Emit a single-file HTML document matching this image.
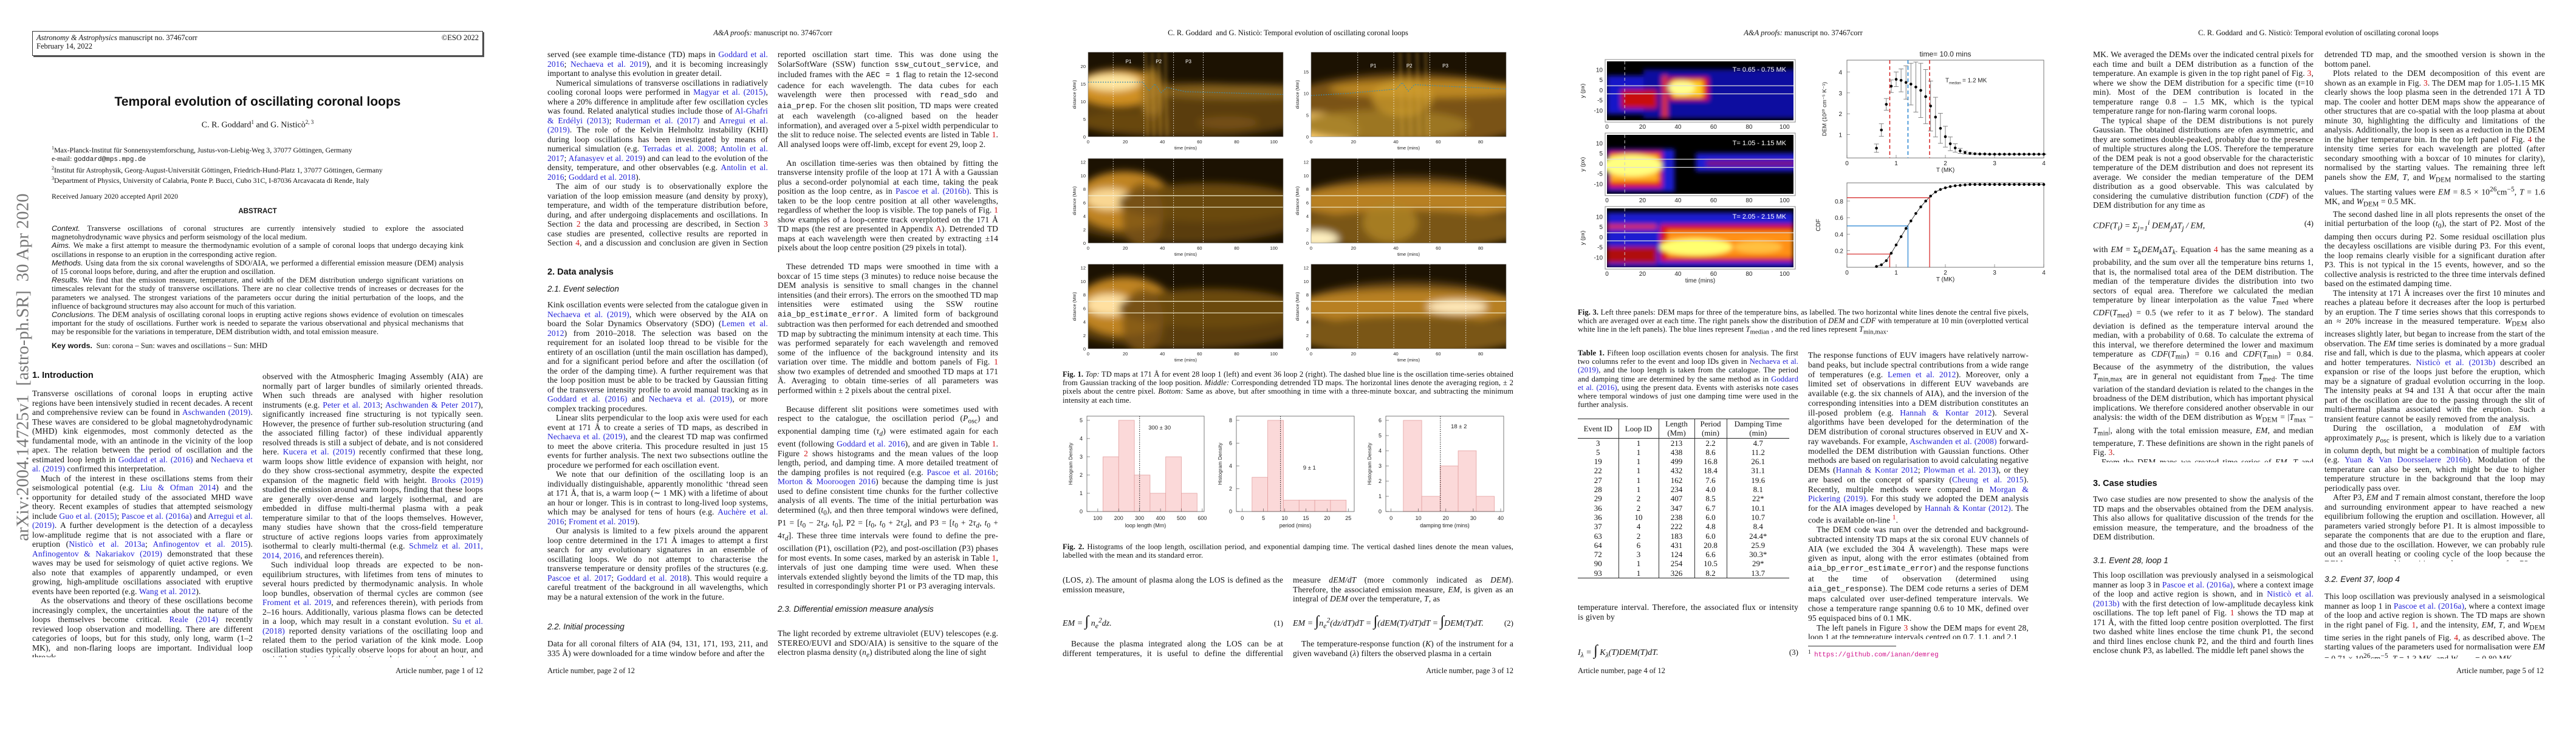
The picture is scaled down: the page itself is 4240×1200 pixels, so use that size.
<!DOCTYPE html>
<html><head><meta charset="utf-8">
<style>
*{margin:0;padding:0;box-sizing:border-box}
body{width:4240px;height:1200px;background:#fff;position:relative;overflow:hidden;font-family:"Liberation Serif",serif;color:#111}
.page{position:absolute;top:0;width:848px;height:1200px;background:#fff}
.col{position:absolute;width:363px;overflow:hidden;font-size:13.5px;letter-spacing:0.15px;line-height:15.5px;text-align:justify;hyphens:auto}
.col p{text-indent:0}
.col p+p{text-indent:14px}
.gap{margin-bottom:15.5px}
.hdr{position:absolute;top:47px;left:0;width:848px;text-align:center;font-size:12.5px}
.ftr{position:absolute;top:1097px;font-size:12.5px}
.h1{position:absolute;font-family:"Liberation Sans",sans-serif;font-weight:bold;font-size:14.5px}
.h2{position:absolute;font-family:"Liberation Sans",sans-serif;font-style:italic;font-size:13.5px}
a,.ln{color:#1f1fd8;text-decoration:none}
.rd{color:#d01010}
.cap{position:absolute;left:53px;width:742px;font-size:12.6px;letter-spacing:0.1px;line-height:14.2px;text-align:justify}
.eq{position:absolute;font-style:italic;font-size:14px}
.tt{font-family:"Liberation Mono",monospace;font-size:12.5px}
svg text{font-family:"Liberation Sans",sans-serif}
table{border-collapse:collapse}
</style></head><body>

<!-- PAGE 1 -->
<div class="page" style="left:0">
  <div style="position:absolute;left:53px;top:51px;width:742px;height:41px;border:1px solid #333;box-shadow:2px 2px 0 #555;font-size:12.5px;line-height:14px;padding:3px 6px">
    <div><i>Astronomy &amp; Astrophysics</i> manuscript no. 37467corr<span style="float:right">©ESO 2022</span></div>
    <div>February 14, 2022</div>
  </div>
  <div style="position:absolute;left:0;width:848px;top:156px;text-align:center;font-family:'Liberation Sans',sans-serif;font-weight:bold;font-size:21px">Temporal evolution of oscillating coronal loops</div>
  <div style="position:absolute;left:0;width:848px;top:196px;text-align:center;font-size:14px">C. R. Goddard<sup style="font-size:9px">1</sup> and G. Nisticò<sup style="font-size:9px">2, 3</sup></div>
  <div style="position:absolute;left:85px;top:237px;font-size:11.8px;line-height:14px">
    <div><sup style="font-size:8px">1</sup>Max-Planck-Institut für Sonnensystemforschung, Justus-von-Liebig-Weg 3, 37077 Göttingen, Germany</div>
    <div>e-mail: <span class="tt" style="font-size:11px">goddard@mps.mpg.de</span></div>
    <div><sup style="font-size:8px">2</sup>Institut für Astrophysik, Georg-August-Universität Göttingen, Friedrich-Hund-Platz 1, 37077 Göttingen, Germany</div>
    <div><sup style="font-size:8px">3</sup>Department of Physics, University of Calabria, Ponte P. Bucci, Cubo 31C, I-87036 Arcavacata di Rende, Italy</div>
    <div style="margin-top:12px">Received January 2020 accepted April 2020</div>
  </div>
  <div style="position:absolute;left:0;width:848px;top:342px;text-align:center;font-family:'Liberation Sans',sans-serif;font-weight:bold;font-size:11.5px">ABSTRACT</div>
  <div style="position:absolute;left:85px;top:369px;width:678px;font-size:12.4px;letter-spacing:0.1px;line-height:14.2px;text-align:justify">
    <div><i style="font-family:'Liberation Sans'">Context.</i> Transverse oscillations of coronal structures are currently intensively studied to explore the associated magnetohydrodynamic wave physics and perform seismology of the local medium.</div>
    <div><i style="font-family:'Liberation Sans'">Aims.</i> We make a first attempt to measure the thermodynamic evolution of a sample of coronal loops that undergo decaying kink oscillations in response to an eruption in the corresponding active region.</div>
    <div><i style="font-family:'Liberation Sans'">Methods.</i> Using data from the six coronal wavelengths of SDO/AIA, we performed a differential emission measure (DEM) analysis of 15 coronal loops before, during, and after the eruption and oscillation.</div>
    <div><i style="font-family:'Liberation Sans'">Results.</i> We find that the emission measure, temperature, and width of the DEM distribution undergo significant variations on timescales relevant for the study of transverse oscillations. There are no clear collective trends of increases or decreases for the parameters we analysed. The strongest variations of the parameters occur during the initial perturbation of the loops, and the influence of background structures may also account for much of this variation.</div>
    <div><i style="font-family:'Liberation Sans'">Conclusions.</i> The DEM analysis of oscillating coronal loops in erupting active regions shows evidence of evolution on timescales important for the study of oscillations. Further work is needed to separate the various observational and physical mechanisms that may be responsible for the variations in temperature, DEM distribution width, and total emission measure.</div>
    <div style="margin-top:8px"><b style="font-family:'Liberation Sans'">Key words.</b> &nbsp;Sun: corona – Sun: waves and oscillations – Sun: MHD</div>
  </div>
  <div style="position:absolute;left:38px;top:604px;width:0;height:0">
    <div style="position:absolute;left:-300px;top:-16px;width:600px;text-align:center;transform:rotate(-90deg);font-size:29px;color:#777;white-space:nowrap">arXiv:2004.14725v1 &nbsp;[astro-ph.SR] &nbsp;30 Apr 2020</div>
  </div>
  <div class="h1" style="left:53px;top:610px">1. Introduction</div>
  <div class="col" style="left:53px;top:640px;height:442px">
    <p>Transverse oscillations of coronal loops in erupting active regions have been intensively studied in recent decades. A recent and comprehensive review can be found in <a>Aschwanden (2019)</a>. These waves are considered to be global magnetohydrodynamic (MHD) kink eigenmodes, most commonly detected as the fundamental mode, with an antinode in the vicinity of the loop apex. The relation between the period of oscillation and the estimated loop length in <a>Goddard et al. (2016)</a> and <a>Nechaeva et al. (2019)</a> confirmed this interpretation.</p>
    <p>Much of the interest in these oscillations stems from their seismological potential (e.g. <a>Liu &amp; Ofman 2014</a>) and the opportunity for detailed study of the associated MHD wave theory. Recent examples of studies that attempted seismology include <a>Guo et al. (2015)</a>; <a>Pascoe et al. (2016a)</a> and <a>Arregui et al. (2019)</a>. A further development is the detection of a decayless low-amplitude regime that is not associated with a flare or eruption (<a>Nisticò et al. 2013a</a>; <a>Anfinogentov et al. 2015</a>). <a>Anfinogentov &amp; Nakariakov (2019)</a> demonstrated that these waves may be used for seismology of quiet active regions. We also note that examples of apparently undamped, or even growing, high-amplitude oscillations associated with eruptive events have been reported (e.g. <a>Wang et al. 2012</a>).</p>
    <p>As the observations and theory of these oscillations become increasingly complex, the uncertainties about the nature of the loops themselves become critical. <a>Reale (2014)</a> recently reviewed loop observation and modelling. There are different categories of loops, but for this study, only long, warm (1–2 MK), and non-flaring loops are important. Individual loop threads</p>
  </div>
  <div class="col" style="left:432px;top:612px;height:470px">
    <p>observed with the Atmospheric Imaging Assembly (AIA) are normally part of larger bundles of similarly oriented threads. When such threads are analysed with higher resolution instruments (e.g. <a>Peter et al. 2013</a>; <a>Aschwanden &amp; Peter 2017</a>), significantly increased fine structuring is not typically seen. However, the presence of further sub-resolution structuring (and the associated filling factor) of these individual apparently resolved threads is still a subject of debate, and is not considered here. <a>Kucera et al. (2019)</a> recently confirmed that these long, warm loops show little evidence of expansion with height, nor do they show cross-sectional asymmetry, despite the expected expansion of the magnetic field with height. <a>Brooks (2019)</a> studied the emission around warm loops, finding that these loops are generally over-dense and largely isothermal, and are embedded in diffuse multi-thermal plasma with a peak temperature similar to that of the loops themselves. However, many studies have shown that the cross-field temperature structure of active regions loops varies from approximately isothermal to clearly multi-thermal (e.g. <a>Schmelz et al. 2011, 2014, 2016</a>, and references therein).</p>
    <p>Such individual loop threads are expected to be non-equilibrium structures, with lifetimes from tens of minutes to several hours predicted by thermodynamic analysis. In whole loop bundles, observation of thermal cycles are common (see <a>Froment et al. 2019</a>, and references therein), with periods from 2–16 hours. Additionally, various plasma flows can be detected in a loop, which may result in a constant evolution. <a>Su et al. (2018)</a> reported density variations of the oscillating loop and related them to the period variation of the kink mode. Loop oscillation studies typically observe loops for about an hour, and a visible evolution of the intensity and structure is frequently ob-</p>
  </div>
  <div class="ftr" style="left:595px;width:200px;text-align:right">Article number, page 1 of 12</div>
</div>

<!-- PAGE 2 -->
<div class="page" style="left:848px">
  <div class="hdr"><i>A&amp;A proofs:</i> manuscript no. 37467corr</div>
  <div class="col" style="left:53px;top:82px;height:328px">
    <p>served (see example time-distance (TD) maps in <a>Goddard et al. 2016</a>; <a>Nechaeva et al. 2019</a>), and it is becoming increasingly important to analyse this evolution in greater detail.</p>
    <p>Numerical simulations of transverse oscillations in radiatively cooling coronal loops were performed in <a>Magyar et al. (2015)</a>, where a 20% difference in amplitude after few oscillation cycles was found. Related analytical studies include those of <a>Al-Ghafri &amp; Erdélyi (2013)</a>; <a>Ruderman et al. (2017)</a> and <a>Arregui et al. (2019)</a>. The role of the Kelvin Helmholtz instability (KHI) during loop oscillations has been investigated by means of numerical simulation (e.g. <a>Terradas et al. 2008</a>; <a>Antolin et al. 2017</a>; <a>Afanasyev et al. 2019</a>) and can lead to the evolution of the density, temperature, and other observables (e.g. <a>Antolin et al. 2016</a>; <a>Goddard et al. 2018</a>).</p>
    <p>The aim of our study is to observationally explore the variation of the loop emission measure (and density by proxy), temperature, and width of the temperature distribution before, during, and after undergoing displacements and oscillations. In Section <span class="rd">2</span> the data and processing are described, in Section <span class="rd">3</span> case studies are presented, collective results are reported in Section <span class="rd">4</span>, and a discussion and conclusion are given in Section <span class="rd">5</span>.</p>
  </div>
  <div class="h1" style="left:53px;top:440px">2. Data analysis</div>
  <div class="h2" style="left:53px;top:468px">2.1. Event selection</div>
  <div class="col" style="left:53px;top:494px;height:512px">
    <p>Kink oscillation events were selected from the catalogue given in <a>Nechaeva et al. (2019)</a>, which were observed by the AIA on board the Solar Dynamics Observatory (SDO) (<a>Lemen et al. 2012</a>) from 2010–2018. The selection was based on the requirement for an isolated loop thread to be visible for the entirety of an oscillation (until the main oscillation has damped), and for a significant period before and after the oscillation (of the order of the damping time). A further requirement was that the loop position must be able to be tracked by Gaussian fitting of the transverse intensity profile to avoid manual tracking as in <a>Goddard et al. (2016)</a> and <a>Nechaeva et al. (2019)</a>, or more complex tracking procedures.</p>
    <p>Linear slits perpendicular to the loop axis were used for each event at 171 Å to create a series of TD maps, as described in <a>Nechaeva et al. (2019)</a>, and the clearest TD map was confirmed to meet the above criteria. This procedure resulted in just 15 events for further analysis. The next two subsections outline the procedure we performed for each oscillation event.</p>
    <p>We note that our definition of the oscillating loop is an individually distinguishable, apparently monolithic ‘thread seen at 171 Å, that is, a warm loop (∼ 1 MK) with a lifetime of about an hour or longer. This is in contrast to long-lived loop systems, which may be analysed for tens of hours (e.g. <a>Auchère et al. 2016</a>; <a>Froment et al. 2019</a>).</p>
    <p>Our analysis is limited to a few pixels around the apparent loop centre determined in the 171 Å images to attempt a first search for any evolutionary signatures in an ensemble of oscillating loops. We do not attempt to characterise the transverse temperature or density profiles of the structures (e.g. <a>Pascoe et al. 2017</a>; <a>Goddard et al. 2018</a>). This would require a careful treatment of the background in all wavelengths, which may be a natural extension of the work in the future.</p>
  </div>
  <div class="h2" style="left:53px;top:1024px">2.2. Initial processing</div>
  <div class="col" style="left:53px;top:1052px;height:31px">
    <p>Data for all coronal filters of AIA (94, 131, 171, 193, 211, and 335 Å) were downloaded for a time window before and after the</p>
  </div>
  <div class="col" style="left:432px;top:82px;height:890px">
    <p class="gap">reported oscillation start time. This was done using the SolarSoftWare (SSW) function <span class="tt">ssw_cutout_service</span>, and included frames with the <span class="tt">AEC = 1</span> flag to retain the 12-second cadence for each wavelength. The data cubes for each wavelength were then processed with <span class="tt">read_sdo</span> and <span class="tt">aia_prep</span>. For the chosen slit position, TD maps were created at each wavelength (co-aligned based on the header information), and averaged over a 5-pixel width perpendicular to the slit to reduce noise. The selected events are listed in Table <span class="rd">1</span>. All analysed loops were off-limb, except for event 29, loop 2.</p>
    <p class="gap" style="text-indent:14px">An oscillation time-series was then obtained by fitting the transverse intensity profile of the loop at 171 Å with a Gaussian plus a second-order polynomial at each time, taking the peak position as the loop centre, as in <a>Pascoe et al. (2016b)</a>. This is taken to be the loop centre position at all other wavelengths, regardless of whether the loop is visible. The top panels of Fig. <span class="rd">1</span> show examples of a loop-centre track overplotted on the 171 Å TD maps (the rest are presented in Appendix <span class="rd">A</span>). Detrended TD maps at each wavelength were then created by extracting ±14 pixels about the loop centre position (29 pixels in total).</p>
    <p class="gap" style="text-indent:14px">These detrended TD maps were smoothed in time with a boxcar of 15 time steps (3 minutes) to reduce noise because the DEM analysis is sensitive to small changes in the channel intensities (and their errors). The errors on the smoothed TD map intensities were estimated using the SSW routine <span class="tt">aia_bp_estimate_error</span>. A limited form of background subtraction was then performed for each detrended and smoothed TD map by subtracting the minimum intensity at each time. This was performed separately for each wavelength and removed some of the influence of the background intensity and its variation over time. The middle and bottom panels of Fig. <span class="rd">1</span> show two examples of detrended and smoothed TD maps at 171 Å. Averaging to obtain time-series of all parameters was performed within ± 2 pixels about the central pixel.</p>
    <p style="text-indent:14px">Because different slit positions were sometimes used with respect to the catalogue, the oscillation period (<i>P</i><sub>osc</sub>) and exponential damping time (<i>τ<sub>d</sub></i>) were estimated again for each event (following <a>Goddard et al. 2016</a>), and are given in Table <span class="rd">1</span>. Figure <span class="rd">2</span> shows histograms and the mean values of the loop length, period, and damping time. A more detailed treatment of the damping profiles is not required (e.g. <a>Pascoe et al. 2016b</a>; <a>Morton &amp; Mooroogen 2016</a>) because the damping time is just used to define consistent time chunks for the further collective analysis of all events. The time of the initial perturbation was determined (<i>t</i><sub>0</sub>), and then three temporal windows were defined, P1 = [<i>t</i><sub>0</sub> − 2<i>τ<sub>d</sub></i>, <i>t</i><sub>0</sub>], P2 = [<i>t</i><sub>0</sub>, <i>t</i><sub>0</sub> + 2<i>τ<sub>d</sub></i>], and P3 = [<i>t</i><sub>0</sub> + 2<i>τ<sub>d</sub></i>, <i>t</i><sub>0</sub> + 4<i>τ<sub>d</sub></i>]. These three time intervals were found to define the pre-oscillation (P1), oscillation (P2), and post-oscillation (P3) phases for most events. In some cases, marked by an asterisk in Table <span class="rd">1</span>, intervals of just one damping time were used. When these intervals extended slightly beyond the limits of the TD map, this resulted in correspondingly shorter P1 or P3 averaging intervals.</p>
  </div>
  <div class="h2" style="left:432px;top:995px">2.3. Differential emission measure analysis</div>
  <div class="col" style="left:432px;top:1035px;height:48px">
    <p>The light recorded by extreme ultraviolet (EUV) telescopes (e.g. STEREO/EUVI and SDO/AIA) is sensitive to the square of the electron plasma density (<i>n<sub>e</sub></i>) distributed along the line of sight</p>
  </div>
  <div class="ftr" style="left:53px">Article number, page 2 of 12</div>
</div>

<!-- PAGE 3 -->
<div class="page" style="left:1696px">
  <div class="hdr">C. R. Goddard &nbsp;and G. Nisticò: Temporal evolution of oscillating coronal loops</div>
  <svg id="fig1" style="position:absolute;left:0;top:0" width="848" height="600"></svg>
  <div class="cap" style="top:609px"><b>Fig. 1.</b> <i>Top:</i> TD maps at 171 Å for event 28 loop 1 (left) and event 36 loop 2 (right). The dashed blue line is the oscillation time-series obtained from Gaussian tracking of the loop position. <i>Middle:</i> Corresponding detrended TD maps. The horizontal lines denote the averaging region, ± 2 pixels about the centre pixel. <i>Bottom:</i> Same as above, but after smoothing in time with a three-minute boxcar, and subtracting the minimum intensity at each time.</div>
  <svg id="fig2" style="position:absolute;left:0;top:670px" width="848" height="210"></svg>
  <div class="cap" style="top:893px"><b>Fig. 2.</b> Histograms of the loop length, oscillation period, and exponential damping time. The vertical dashed lines denote the mean values, labelled with the mean and its standard error.</div>
  <div class="col" style="left:53px;top:947px;height:31px"><p>(LOS, <i>z</i>). The amount of plasma along the LOS is defined as the emission measure,</p></div>
  <div class="eq" style="left:53px;top:1010px;width:363px">EM = <span style="font-size:24px;font-style:normal">∫</span> n<sub>e</sub><sup>2</sup>dz.<span style="float:right;font-style:normal;font-size:13px;margin-top:8px">(1)</span></div>
  <div class="col" style="left:53px;top:1052px;height:31px"><p style="text-indent:14px">Because the plasma integrated along the LOS can be at different temperatures, it is useful to define the differential emission</p></div>
  <div class="col" style="left:432px;top:947px;height:47px"><p>measure <i>dEM/dT</i> (more commonly indicated as <i>DEM</i>). Therefore, the associated emission measure, <i>EM</i>, is given as an integral of <i>DEM</i> over the temperature, <i>T</i>, as</p></div>
  <div class="eq" style="left:432px;top:1010px;width:363px">EM = <span style="font-size:24px;font-style:normal">∫</span>n<sub>e</sub><sup>2</sup>(dz/dT)dT = <span style="font-size:24px;font-style:normal">∫</span>(dEM(T)/dT)dT = <span style="font-size:24px;font-style:normal">∫</span>DEM(T)dT.<span style="float:right;font-style:normal;font-size:13px;margin-top:8px">(2)</span></div>
  <div class="col" style="left:432px;top:1052px;height:31px"><p style="text-indent:14px">The temperature-response function (<i>K</i>) of the instrument for a given waveband (<i>λ</i>) filters the observed plasma in a certain</p></div>
  <div class="ftr" style="left:595px;width:200px;text-align:right">Article number, page 3 of 12</div>
</div>

<!-- PAGE 4 -->
<div class="page" style="left:2544px">
  <div class="hdr"><i>A&amp;A proofs:</i> manuscript no. 37467corr</div>
  <svg id="fig3maps" style="position:absolute;left:0;top:0" width="440" height="480"></svg>
  <svg id="fig3dem" style="position:absolute;left:440px;top:0" width="408" height="480"></svg>
  <div class="cap" style="top:507px"><b>Fig. 3.</b> Left three panels: DEM maps for three of the temperature bins, as labelled. The two horizontal white lines denote the central five pixels, which are averaged over at each time. The right panels show the distribution of <i>DEM</i> and <i>CDF</i> with temperature at 10 min (overplotted vertical white line in the left panels). The blue lines represent <i>T</i><sub>median</sub> , and the red lines represent <i>T</i><sub>min,max</sub>.</div>
  <div class="cap" style="top:574px;width:363px;line-height:14.2px"><b>Table 1.</b> Fifteen loop oscillation events chosen for analysis. The first two columns refer to the event and loop IDs given in <a>Nechaeva et al. (2019)</a>, and the loop length is taken from the catalogue. The period and damping time are determined by the same method as in <a>Goddard et al. (2016)</a>, using the present data. Events with asterisks note cases where temporal windows of just one damping time were used in the further analysis.</div>
  <table id="tbl" style="position:absolute;left:53px;top:689px;width:348px;font-size:13px;line-height:15.3px;text-align:center;border-top:1.3px solid #222;border-bottom:1.3px solid #222">
    <thead><tr style="border-bottom:1.3px solid #222">
      <th style="font-weight:normal;width:67px;border-right:1px solid #333">Event ID</th>
      <th style="font-weight:normal;width:66px;border-right:1px solid #333">Loop ID</th>
      <th style="font-weight:normal;width:59px;border-right:1px solid #333">Length<br>(Mm)</th>
      <th style="font-weight:normal;width:53px;border-right:1px solid #333">Period<br>(min)</th>
      <th style="font-weight:normal">Damping Time<br>(min)</th></tr></thead>
    <tbody id="tbody"></tbody>
  </table>
  <div class="col" style="left:53px;top:992px;height:31px"><p>temperature interval. Therefore, the associated flux or intensity is given by</p></div>
  <div class="eq" style="left:53px;top:1058px;width:363px">I<sub>λ</sub> = <span style="font-size:24px;font-style:normal">∫</span> K<sub>λ</sub>(T)DEM(T)dT.<span style="float:right;font-style:normal;font-size:13px;margin-top:8px">(3)</span></div>
  <div class="col" style="left:432px;top:577px;height:475px;line-height:15.75px">
    <p>The response functions of EUV imagers have relatively narrow-band peaks, but include spectral contributions from a wide range of temperatures (e.g. <a>Lemen et al. 2012</a>). Moreover, only a limited set of observations in different EUV wavebands are available (e.g. the six channels of AIA), and the inversion of the corresponding intensities into a DEM distribution constitutes an ill-posed problem (e.g. <a>Hannah &amp; Kontar 2012</a>). Several algorithms have been developed for the determination of the DEM distribution of coronal structures observed in EUV and X-ray wavebands. For example, <a>Aschwanden et al. (2008)</a> forward-modelled the DEM distribution with Gaussian functions. Other methods are based on regularisation to avoid calculating negative DEMs (<a>Hannah &amp; Kontar 2012</a>; <a>Plowman et al. 2013</a>), or they are based on the concept of sparsity (<a>Cheung et al. 2015</a>). Recently, multiple methods were compared in <a>Morgan &amp; Pickering (2019)</a>. For this study we adopted the DEM analysis for the AIA images developed by <a>Hannah &amp; Kontar (2012)</a>. The code is available on-line <sup class="rd">1</sup>.</p>
    <p>The DEM code was run over the detrended and background-subtracted intensity TD maps at the six coronal EUV channels of AIA (we excluded the 304 Å wavelength). These maps were given as input, along with the error estimates (obtained from <span class="tt">aia_bp_error_estimate_error</span>) and the response functions at the time of observation (determined using <span class="tt">aia_get_response</span>). The DEM code returns a series of DEM maps calculated over user-defined temperature intervals. We chose a temperature range spanning 0.6 to 10 MK, defined over 95 equispaced bins of 0.1 MK.</p>
    <p>The left panels in Figure <span class="rd">3</span> show the DEM maps for event 28, loop 1 at the temperature intervals centred on 0.7, 1.1, and 2.1</p>
  </div>
  <div style="position:absolute;left:432px;top:1063px;width:145px;border-top:1px solid #333"></div>
  <div style="position:absolute;left:432px;top:1068px;font-size:11px"><sup>1</sup> &nbsp;<span class="tt" style="color:#d0108a;font-size:11px">https://github.com/ianan/demreg</span></div>
  <div class="ftr" style="left:53px">Article number, page 4 of 12</div>
</div>

<!-- PAGE 5 -->
<div class="page" style="left:3392px">
  <div class="hdr">C. R. Goddard &nbsp;and G. Nisticò: Temporal evolution of oscillating coronal loops</div>
  <div class="col" style="left:53px;top:82px;height:264px">
    <p>MK. We averaged the DEMs over the indicated central pixels for each time and built a DEM distribution as a function of the temperature. An example is given in the top right panel of Fig. <span class="rd">3</span>, where we show the DEM distribution for a specific time (t=10 min). Most of the DEM contribution is located in the temperature range 0.8 – 1.5 MK, which is the typical temperature range for non-flaring warm coronal loops.</p>
    <p>The typical shape of the DEM distributions is not purely Gaussian. The obtained distributions are ofen asymmetric, and they are sometimes double-peaked, probably due to the presence of multiple structures along the LOS. Therefore the temperature of the DEM peak is not a good observable for the characteristic temperature of the DEM distribution and does not represent its average. We consider the median temperature of the DEM distribution as a good observable. This was calculated by considering the cumulative distribution function (<i>CDF</i>) of the DEM distribution for any time as</p>
  </div>
  <div class="eq" style="left:53px;top:360px;width:363px">CDF(T<sub>i</sub>) = Σ<sub>j=1</sub><sup>i</sup> DEM<sub>j</sub>ΔT<sub>j</sub> / EM,<span style="float:right;font-style:normal;font-size:13px">(4)</span></div>
  <div class="col" style="left:53px;top:403px;height:358px">
    <p>with <i>EM</i> = Σ<sub><i>k</i></sub><i>DEM<sub>k</sub></i>Δ<i>T<sub>k</sub></i>. Equation <span class="rd">4</span> has the same meaning as a probability, and the sum over all the temperature bins returns 1, that is, the normalised total area of the DEM distribution. The median of the temperature divides the distribution into two sectors of equal area. Therefore we calculated the median temperature by linear interpolation as the value <i>T</i><sub>med</sub> where <i>CDF</i>(<i>T</i><sub>med</sub>) = 0.5 (we refer to it as <i>T</i> below). The standard deviation is defined as the temperature interval around the median, with a probability of 0.68. To calculate the extrema of this interval, we therefore determined the lower and maximum temperature as <i>CDF</i>(<i>T</i><sub>min</sub>) = 0.16 and <i>CDF</i>(<i>T</i><sub>min</sub>) = 0.84. Because of the asymmetry of the distribution, the values <i>T</i><sub>min,max</sub> are in general not equidistant from <i>T</i><sub>med</sub>. The time variation of the standard deviation is related to the changes in the broadness of the DEM distribution, which has important physical implications. We therefore considered another observable in our analysis: the width of the DEM distribution as <i>W</i><sub>DEM</sub> = |<i>T</i><sub>max</sub> − <i>T</i><sub>min</sub>|, along with the total emission measure, <i>EM</i>, and median temperature, <i>T</i>. These definitions are shown in the right panels of Fig. <span class="rd">3</span>.</p>
    <p>From the DEM maps we created time series of <i>EM</i>, <i>T</i> and <i>W</i><sub>DEM</sub> averaged within the central 5 pixels for each time. Examples of the final time series are shown in the bottom three rows of Fig. <span class="rd">4</span>, which are normalised by the initial values.</p>
  </div>
  <div class="h1" style="left:53px;top:788px">3. Case studies</div>
  <div class="col" style="left:53px;top:814px;height:78px">
    <p>Two case studies are now presented to show the analysis of the TD maps and the observables obtained from the DEM analysis. This also allows for qualitative discussion of the trends for the emission measure, the temperature, and the broadness of the DEM distribution.</p>
  </div>
  <div class="h2" style="left:53px;top:915px">3.1. Event 28, loop 1</div>
  <div class="col" style="left:53px;top:939px;height:141px">
    <p>This loop oscillation was previously analysed in a seismological manner as loop 3 in <a>Pascoe et al. (2016a)</a>, where a context image of the loop and active region is shown, and in <a>Nisticò et al. (2013b)</a> with the first detection of low-amplitude decayless kink oscillations. The top left panel of Fig. <span class="rd">1</span> shows the TD map at 171 Å, with the fitted loop centre position overplotted. The first two dashed white lines enclose the time chunk P1, the second and third lines enclose chunk P2, and the third and fourth lines enclose chunk P3, as labelled. The middle left panel shows the</p>
  </div>
  <div class="col" style="left:434px;top:82px;height:842px">
    <p>detrended TD map, and the smoothed version is shown in the bottom panel.</p>
    <p>Plots related to the DEM decomposition of this event are shown as an example in Fig. <span class="rd">3</span>. The DEM map for 1.05-1.15 MK clearly shows the loop plasma seen in the detrended 171 Å TD map. The cooler and hotter DEM maps show the appearance of other structures that are co-spatial with the loop plasma at about minute 30, highlighting the difficulty and limitations of the analysis. Additionally, the loop is seen as a reduction in the DEM in the higher temperature bin. In the top left panel of Fig. <span class="rd">4</span> the intensity time series for each wavelength are plotted (after secondary smoothing with a boxcar of 10 minutes for clarity), normalised by the starting values. The remaining three left panels show the <i>EM</i>, <i>T</i>, and <i>W</i><sub>DEM</sub> normalised to the starting values. The starting values were <i>EM</i> = 8.5 × 10<sup>26</sup>cm<sup>−5</sup>, <i>T</i> = 1.6 MK, and <i>W</i><sub>DEM</sub> = 0.5 MK.</p>
    <p>The second dashed line in all plots represents the onset of the initial perturbation of the loop (<i>t</i><sub>0</sub>), the start of P2. Most of the damping then occurs during P2. Some residual oscillation plus the decayless oscillations are visible during P3. For this event, the loop remains clearly visible for a significant duration after P3. This is not typical in the 15 events, however, and so the collective analysis is restricted to the three time intervals defined based on the estimated damping time.</p>
    <p>The intensity at 171 Å increases over the first 10 minutes and reaches a plateau before it decreases after the loop is perturbed by an eruption. The <i>T</i> time series shows that this corresponds to an ≈ 20% increase in the measured temperature. <i>W</i><sub>DEM</sub> also increases slightly later, but began to increase from the start of the observation. The <i>EM</i> time series is dominated by a more gradual rise and fall, which is due to the plasma, which appears at cooler and hotter temperatures. <a>Nisticò et al. (2013b)</a> described an expansion or rise of the loops just before the eruption, which may be a signature of gradual evolution occurring in the loop. The intensity peaks at 94 and 131 Å that occur after the main part of the oscillation are due to the passing through the slit of multi-thermal plasma associated with the eruption. Such a transient feature cannot be easily removed from the analysis.</p>
    <p>During the oscillation, a modulation of <i>EM</i> with approximately <i>p</i><sub>osc</sub> is present, which is likely due to a variation in column depth, but might be a combination of multiple factors (e.g. <a>Yuan &amp; Van Doorsselaere 2016b</a>). Modulation of the temperature can also be seen, which might be due to higher temperature structure in the background that the loop may periodically pass over.</p>
    <p>After P3, <i>EM</i> and <i>T</i> remain almost constant, therefore the loop and surrounding environment appear to have reached a new equilibrium following the eruption and oscillation. However, all parameters varied strongly before P1. It is almost impossible to separate the components that are due to the eruption and flare, and those due to the oscillation. However, we can probably rule out an overall heating or cooling cycle of the loop because the DEM parameters and intensities are almost constant after P3.</p>
  </div>
  <div class="h2" style="left:434px;top:946px">3.2. Event 37, loop 4</div>
  <div class="col" style="left:434px;top:974px;height:110px">
    <p>This loop oscillation was previously analysed in a seismological manner as loop 1 in <a>Pascoe et al. (2016a)</a>, where a context image of the loop and active region is shown. The TD maps are shown in the right panel of Fig. <span class="rd">1</span>, and the intensity, <i>EM</i>, <i>T</i>, and <i>W</i><sub>DEM</sub> time series in the right panels of Fig. <span class="rd">4</span>, as described above. The starting values of the parameters used for normalisation were <i>EM</i> = 0.71 × 10<sup>26</sup>cm<sup>−5</sup>, <i>T</i> = 1.3 MK, and <i>W</i><sub>DEM</sub> = 0.80 MK.</p>
  </div>
  <div class="ftr" style="left:595px;width:200px;text-align:right">Article number, page 5 of 12</div>
</div>

<script>
// ===== Table 1 data =====
const eventIds = ["3","5","19","22","27","28","29","36","36","37","63","64","72","90","93"];
const loopIds = ["1","1","1","1","1","1","2","2","10","4","2","6","3","1","1"];
const lengths = ["213","438","499","432","162","234","407","347","238","222","183","431","124","254","326"];
const periods = ["2.2","8.6","16.8","18.4","7.6","4.0","8.5","6.7","6.0","4.8","6.0","20.8","6.6","10.5","8.2"];
const dampings = ["4.7","11.2","26.1","31.1","19.6","8.1","22*","10.1","10.7","8.4","24.4*","25.9","30.3*","29*","13.7"];

// ===== Fig 2 histogram data =====
const lenEdges = [125,200,275,350,425,500,575];
const lenCounts = [3,5,2,1,3,1];
const lenMean = 300;
const perEdges = [2.3,6.0,9.7,13.4,17.1,20.8,24.5];
const perCounts = [3,8,1,1,1,1];
const perMean = 9;
const dampEdges = [4.5,11.2,17.9,24.5,31.1,37.7];
const dampCounts = [6,1,3,4,1];
const dampMean = 18;
const lenTicks = [100,200,300,400,500,600];
const perTicks = [0,5,10,15,20,25];
const dampTicks = [0,10,20,30,40];

// ===== Fig 3 DEM data =====
const demT = [0.6,0.7,0.8,0.9,1.0,1.1,1.2,1.3,1.4,1.5,1.6,1.7,1.8,1.9,2.0,2.1,2.2,2.3,2.4,2.5,2.6,2.7,2.8,2.9,3.0,3.1,3.2,3.3,3.4,3.5,3.6,3.7,3.8,3.9,4.0];
const demVal = [0.35,1.22,2.45,3.32,3.65,3.6,3.5,3.42,3.28,3.12,2.82,2.37,1.84,1.3,0.9,0.56,0.36,0.22,0.14,0.1,0.08,0.07,0.07,0.06,0.06,0.06,0.06,0.06,0.06,0.06,0.06,0.06,0.06,0.06,0.06];
const demErr = [0.2,0.3,0.28,0.3,0.35,0.55,0.8,1.0,1.2,1.3,1.3,1.2,0.95,0.72,0.5,0.33,0.2,0.12,0.07,0.04,0.03,0.02,0.02,0.02,0.02,0.02,0.02,0.02,0.02,0.02,0.02,0.02,0.02,0.02,0.02];
const cdfVal = [0.01,0.03,0.08,0.17,0.27,0.37,0.47,0.56,0.65,0.73,0.80,0.86,0.91,0.94,0.96,0.975,0.985,0.99,0.995,1,1,1,1,1,1,1,1,1,1,1,1,1,1,1,1];
const tMin = 0.87, tMed = 1.24, tMax = 1.68;
const cdfLevels = [0.16,0.5,0.84];

const NS = "http://www.w3.org/2000/svg";
function el(tag, parent){ const e=document.createElementNS(NS,tag); parent.appendChild(e); return e; }
function setA(e, o){ for(const k in o) e.setAttribute(k,o[k]); return e; }

// ----- Table -----
const tb = document.getElementById('tbody');
for(let i=0;i<eventIds.length;i++){
  const tr = document.createElement('tr');
  
  
  [eventIds[i],loopIds[i],lengths[i],periods[i],dampings[i]].forEach((v,j)=>{
    const td=document.createElement('td'); td.textContent=v;
    if(j<4) td.style.borderRight='1px solid #333';
    tr.appendChild(td);
  });
  tb.appendChild(tr);
}

// ----- Fig 1 TD maps (image textures) -----
const f1 = document.getElementById('fig1');
const defs = el('defs', f1);
const flt = setA(el('filter', defs), {id:'blur6', x:'-50%', y:'-50%', width:'200%', height:'200%'});
setA(el('feGaussianBlur', flt), {stdDeviation:'6'});
const flt2 = setA(el('filter', defs), {id:'blur3', x:'-50%', y:'-50%', width:'200%', height:'200%'});
setA(el('feGaussianBlur', flt2), {stdDeviation:'3'});
const f1Panels = [
 {x:95,y:86,tmax:105,ymax:24,yt:[0,5,10,15,20],xt:[0,20,40,60,80,100],lines:[13.5,30,46,62],top:true,left:true},
 {x:462,y:86,tmax:92,ymax:19.5,yt:[0,5,10,15],xt:[0,20,40,60,80],lines:[22,39,56,73],top:true,left:false},
 {x:95,y:261,tmax:105,ymax:12.5,yt:[0,2,4,6,8,10,12],xt:[0,20,40,60,80,100],lines:[13.5,30,46,62],top:false,left:true},
 {x:462,y:261,tmax:92,ymax:12.5,yt:[0,2,4,6,8,10,12],xt:[0,20,40,60,80],lines:[22,39,56,73],top:false,left:false},
 {x:95,y:435,tmax:105,ymax:12.5,yt:[0,2,4,6,8,10,12],xt:[0,20,40,60,80,100],lines:[13.5,30,46,62],top:false,left:true,smooth:true},
 {x:462,y:435,tmax:92,ymax:12.5,yt:[0,2,4,6,8,10,12],xt:[0,20,40,60,80],lines:[22,39,56,73],top:false,left:false,smooth:true}
];
const W1=321,H1=139;
f1Panels.forEach((p,idx)=>{
  const g = setA(el('g', f1), {transform:`translate(${p.x},${p.y})`});
  
  
  const cp = setA(el('clipPath', defs), {id:'c1_'+idx});
  setA(el('rect', cp), {x:0,y:0,width:W1,height:H1});
  setA(el('rect', g), {x:0,y:0,width:W1,height:H1,fill:'#1c1202'});
  const img = setA(el('g', g), {'clip-path':`url(#c1_${idx})`});
  const bl = setA(el('g', img), {filter:'url(#blur6)'});
  const sx = t=>t/p.tmax*W1, sy = d=>H1-d/p.ymax*H1;
  function ell(cx,cy,rx,ry,c,o){ setA(el('ellipse', bl), {cx,cy,rx,ry,fill:c,opacity:o}); }
  if(p.top && p.left){
    ell(160,95,220,45,'#5a3c0c',1); ell(250,65,140,12,'#8a6420',0.9);
    ell(50,sy(14),70,30,'#d09020',1); ell(40,sy(15.5),45,14,'#ffe6a0',1);
    ell(105,sy(12),18,45,'#9a7020',0.9); ell(230,sy(4),50,10,'#7a5418',0.8); ell(60,sy(4),70,18,'#6a4a12',0.8);
  } else if(p.top){
    ell(160,95,220,60,'#7a5214',1); ell(200,sy(11),170,14,'#c08a24',0.95);
    ell(10,130,70,30,'#ffd070',1); ell(120,120,140,25,'#a07a24',0.9); ell(150,sy(9),50,30,'#d0a030',0.7);
  } else if(p.left){
    ell(160,sy(4),200,45,'#5a3e0e',1);
    ell(60,sy(6.3),80,48,'#c08420',1); ell(35,sy(6.5),38,18,'#ffe0a0',p.smooth?1:0.9);
    ell(200,sy(6),150,32,'#6a4810',1); ell(90,sy(4),34,55,'#7a5414',0.8);
  } else {
    ell(160,sy(5),200,55,'#6a4a12',1);
    ell(160,sy(6.2),190,28,'#b88020',1); ell(160,sy(2),190,32,'#7a5616',1);
    if(p.smooth){ ell(240,sy(6.2),50,11,'#ffe8b8',1); }
    else { ell(10,H1-6,35,14,'#fff0c0',1); ell(130,sy(3),45,32,'#b08428',0.8); }
  }
  if(p.top){
    const bg = setA(el('g', img), {filter:'url(#blur3)'});
    for(let k=0;k<4;k++) setA(el('line', bg), {x1:sx(p.left?31+k*3.5:42+k*4),y1:0,x2:sx(p.left?32+k*3.5:43+k*4),y2:H1,stroke:'#d0a040','stroke-width':2,opacity:0.7});
    const trk = setA(el('polyline', img), {fill:'none',stroke:'#3c8cb0','stroke-width':1.2,'stroke-dasharray':'2 2',
      points: p.left? `0,${sy(15.5)} 90,${sy(15.5)} 100,${sy(13)} 110,${sy(15)} 120,${sy(12.5)} 130,${sy(14)} 160,${sy(12.8)} 321,${sy(12)}`
                    : `0,${sy(9.5)} 60,${sy(10)} 140,${sy(11)} 150,${sy(12.5)} 160,${sy(10.5)} 170,${sy(12)} 321,${sy(11)}`});
    
    ['P1','P2','P3'].forEach((lb,k)=>{
      const t = setA(el('text', img), {x:(sx(p.lines[k])+sx(p.lines[k+1]))/2 - (p.left?0:4), y:p.left?18:25,'font-size':8,fill:'#fff','text-anchor':'middle'});
      t.textContent = lb;
    });
  } else {
    [7,5.3].forEach(v=>setA(el('line', img), {x1:0,x2:W1,y1:sy(v),y2:sy(v),stroke:'#f4efd0','stroke-width':1.2}));
  }
  p.lines.forEach(t=>{
    const l = setA(el('line', img), {x1:sx(t),x2:sx(t),y1:0,y2:H1,stroke:'#fff','stroke-width':0.9,'stroke-dasharray':'1.5 2.5'});
    
  });
  setA(el('rect', g), {x:0,y:0,width:W1,height:H1,fill:'none',stroke:'#777','stroke-width':0.6});
  p.xt.forEach(t=>{
    const tx = setA(el('text', g), {x:sx(t),y:H1+11,'font-size':7.5,'text-anchor':'middle',fill:'#222'}); tx.textContent=t;
  });
  p.yt.forEach(v=>{
    const tx = setA(el('text', g), {x:-4,y:sy(v)+3,'font-size':7.5,'text-anchor':'end',fill:'#222'}); tx.textContent=v;
  });
  const xl = setA(el('text', g), {x:W1/2,y:H1+21,'font-size':7.5,'text-anchor':'middle',fill:'#222'}); xl.textContent='time (mins)';
  const yl = setA(el('text', g), {x:0,y:0,'font-size':7.5,'text-anchor':'middle',fill:'#222',transform:`translate(-20,${H1/2}) rotate(-90)`}); yl.textContent='distance (Mm)';
});

// ----- Fig 2 histograms -----
const f2 = document.getElementById('fig2');
const hists = [
 {x0:93,x1:286,dom:[48,609],ymax:5.23,edges:lenEdges,counts:lenCounts,mean:lenMean,xt:lenTicks,yt:[0,1,2,3,4,5],xl:'loop length (Mm)',lab:'300  ±  30',lx:0.62,ly:22},
 {x0:339,x1:533,dom:[-1.4,26.4],ymax:8.37,edges:perEdges,counts:perCounts,mean:perMean,xt:perTicks,yt:[0,2,4,6,8],xl:'period (mins)',lab:'9  ±  1',lx:0.62,ly:88},
 {x0:585,x1:779,dom:[-1.9,41.1],ymax:6.28,edges:dampEdges,counts:dampCounts,mean:dampMean,xt:dampTicks,yt:[0,1,2,3,4,5,6],xl:'damping time (mins)',lab:'18  ±  2',lx:0.62,ly:20}
];
const HT=15, HB=172;
hists.forEach((h,hi)=>{
  const g = el('g', f2);
  
  
  const sx = v=>h.x0+(v-h.dom[0])/(h.dom[1]-h.dom[0])*(h.x1-h.x0);
  const sy = v=>HB-v/h.ymax*(HB-HT);
  for(let i=0;i<h.counts.length;i++){
    const r = setA(el('rect', g), {x:sx(h.edges[i]),y:sy(h.counts[i]),width:sx(h.edges[i+1])-sx(h.edges[i]),height:HB-sy(h.counts[i]),fill:'#fbd9d9',stroke:'#e3a0a0','stroke-width':0.8});
    
    
  }
  const ml = setA(el('line', g), {x1:sx(h.mean),x2:sx(h.mean),y1:HT,y2:HB,stroke:'#222','stroke-width':1.1,'stroke-dasharray':'1.5 2'});
  
  setA(el('rect', g), {x:h.x0,y:HT,width:h.x1-h.x0,height:HB-HT,fill:'none',stroke:'#444','stroke-width':0.7});
  h.xt.forEach(t=>{
    setA(el('line', g), {x1:sx(t),x2:sx(t),y1:HB,y2:HB-5,stroke:'#444','stroke-width':0.6});
    const tx = setA(el('text', g), {x:sx(t),y:HB+14,'font-size':9,'text-anchor':'middle',fill:'#222'}); tx.textContent=t;
  });
  h.yt.forEach(v=>{
    setA(el('line', g), {x1:h.x0,x2:h.x0+5,y1:sy(v),y2:sy(v),stroke:'#444','stroke-width':0.6});
    const tx = setA(el('text', g), {x:h.x0-7,y:sy(v)+3,'font-size':9,'text-anchor':'end',fill:'#222'}); tx.textContent=v;
  });
  const xl = setA(el('text', g), {x:(h.x0+h.x1)/2,y:HB+26,'font-size':9,'text-anchor':'middle',fill:'#222'}); xl.textContent=h.xl;
  const yl = setA(el('text', g), {x:0,y:0,'font-size':8.5,'text-anchor':'middle',fill:'#222',transform:`translate(${h.x0-24},${(HT+HB)/2}) rotate(-90)`}); yl.textContent='Histogram Density';
  const lb = setA(el('text', g), {x:h.x0+h.lx*(h.x1-h.x0),y:HT+h.ly,'font-size':9.5,'text-anchor':'middle',fill:'#222'}); lb.textContent=h.lab;
  
});

// ----- Fig 3 DEM maps -----
const fm = document.getElementById('fig3maps');
const defs3 = el('defs', fm);
const ff = setA(el('filter', defs3), {id:'b3', x:'-50%', y:'-50%', width:'200%', height:'200%'});
setA(el('feGaussianBlur', ff), {stdDeviation:'4'});
const mapPanels = [{y:101,label:'T= 0.65 - 0.75 MK'},{y:222,label:'T= 1.05 - 1.15 MK'},{y:343,label:'T= 2.05 - 2.15 MK'}];
const MX=101, MW=307, MH=97;
mapPanels.forEach((mp,idx)=>{
  const g = setA(el('g', fm), {transform:`translate(${MX},${mp.y})`});
  
  
  const sx = t=>t/105*MW, sy = v=>(14-v)/29*MH;
  const cp = setA(el('clipPath', defs3), {id:'cm'+idx});
  setA(el('rect', cp), {x:0,y:0,width:MW,height:MH});
  setA(el('rect', g), {x:-3,y:-3,width:MW+6,height:MH+6,fill:'none',stroke:'#888','stroke-width':1});
  setA(el('rect', g), {x:0,y:0,width:MW,height:MH,fill:'#000'});
  const img = setA(el('g', g), {'clip-path':`url(#cm${idx})`});
  const b = setA(el('g', img), {filter:'url(#b3)'});
  function E(cx,cy,rx,ry,c){ setA(el('ellipse', b), {cx,cy,rx,ry,fill:c}); }
  function R(x,y,w,h,c){ setA(el('rect', b), {x,y,width:w,height:h,fill:c}); }
  if(idx===0){
    R(0,sy(7),MW,sy(-12)-sy(7),'#1818c8'); R(60,sy(10),260,sy(-14)-sy(10),'#1010a0');
    R(sx(35),sy(6),sx(22),sy(-5)-sy(6),'#e01010'); R(sx(37),sy(4.5),sx(17),sy(-3.5)-sy(4.5),'#ffd020'); E(sx(42),sy(1),22,12,'#ffff90');
    R(sx(8),sy(0),sx(20),sy(-9)-sy(0),'#c81010'); R(sx(31),sy(7),sx(3),sy(-14)-sy(7),'#e03030');
  } else if(idx===1){
    R(sx(50),sy(5),MW,sy(-4)-sy(5),'#1a1ad0'); R(0,sy(7),sx(38),sy(-14)-sy(7),'#1a1ad0');
    R(sx(56),sy(1),sx(50),sy(-1)-sy(1),'#8a1060');
    R(sx(1),sy(6),sx(30),sy(-12)-sy(6),'#e01010'); R(sx(2),sy(4),sx(27),sy(-9)-sy(4),'#ffb020'); E(sx(14),sy(-1),50,18,'#ffff80');
  } else {
    R(0,sy(12),MW,sy(-15)-sy(12),'#1a1ad0');
    R(sx(30),sy(6),sx(75),sy(-12)-sy(6),'#d81010'); R(sx(34),sy(3),sx(71),sy(-10)-sy(3),'#ff9018'); E(sx(50),sy(-5),60,14,'#ffff70'); E(sx(85),sy(-5),40,10,'#ffc040');
    R(0,sy(6),sx(28),sy(4)-sy(6),'#e83020'); R(0,sy(-5),sx(28),sy(-13)-sy(-5),'#b01010');
  }
  [2,-2].forEach(v=>setA(el('line', img), {x1:0,x2:MW,y1:sy(v),y2:sy(v),stroke:'#ddd','stroke-width':1.2}));
  setA(el('line', img), {x1:sx(10),x2:sx(10),y1:0,y2:MH,stroke:'#ccc','stroke-width':1,'stroke-dasharray':'5 4'});
  const lt = setA(el('text', g), {x:MW-12,y:17,'font-size':11,'text-anchor':'end',fill:'#fff'}); lt.textContent=mp.label;
  [0,20,40,60,80,100].forEach(t=>{ const tx=setA(el('text', g), {x:sx(t),y:MH+14,'font-size':10,'text-anchor':'middle',fill:'#222'}); tx.textContent=t; });
  [10,5,0,-5,-10].forEach(v=>{ const tx=setA(el('text', g), {x:-7,y:sy(v)+4,'font-size':10,'text-anchor':'end',fill:'#222'}); tx.textContent=v; });
  const yl = setA(el('text', g), {x:0,y:0,'font-size':9.5,'text-anchor':'middle',fill:'#222',transform:`translate(-37,${MH/2}) rotate(-90)`}); yl.textContent='y (px)';
  if(idx===2){ const xl=setA(el('text', g), {x:MW/2,y:MH+25,'font-size':10,'text-anchor':'middle',fill:'#222'}); xl.textContent='time (mins)'; }
});

// ----- Fig 3 DEM & CDF plots -----
const fd = document.getElementById('fig3dem');
const PX0=56, PX1=380;
const tx_ = T=>PX0+T/4*(PX1-PX0);
const dTop=99, dBot=260, dDom=[-0.12,4.57];
const dy = v=>dBot-(v-dDom[0])/(dDom[1]-dDom[0])*(dBot-dTop);
const cTop=301, cBot=440;
const cy = v=>cBot-v/1.02*(cBot-cTop);
function axesBox(top,bot,name){
  const r = setA(el('rect', fd), {x:PX0,y:top,width:PX1-PX0,height:bot-top,fill:'none',stroke:'#555','stroke-width':0.8});
  
  [0,1,2,3,4].forEach(T=>{
    setA(el('line', fd), {x1:tx_(T),x2:tx_(T),y1:bot,y2:bot-5,stroke:'#555','stroke-width':0.6});
    const t=setA(el('text', fd), {x:tx_(T),y:bot+12,'font-size':10,'text-anchor':'middle',fill:'#222'}); t.textContent=T;
  });
  const xl=setA(el('text', fd), {x:(PX0+PX1)/2,y:bot+23,'font-size':10,'text-anchor':'middle',fill:'#222'}); xl.textContent='T (MK)';
}
axesBox(dTop,dBot,'dem-axes');
const ttl = setA(el('text', fd), {x:(PX0+PX1)/2,y:93,'font-size':12,'text-anchor':'middle',fill:'#222'}); ttl.textContent='time= 10.0 mins';
[1,2,3,4].forEach(v=>{ setA(el('line', fd), {x1:PX0,x2:PX0+5,y1:dy(v),y2:dy(v),stroke:'#555','stroke-width':0.6});
  const t=setA(el('text', fd), {x:PX0-8,y:dy(v)+4,'font-size':10,'text-anchor':'end',fill:'#222'}); t.textContent=v; });
const dyl = setA(el('text', fd), {x:0,y:0,'font-size':9.5,'text-anchor':'middle',fill:'#222',transform:`translate(${PX0-34},${(dTop+dBot)/2}) rotate(-90)`}); dyl.textContent='DEM (10²⁰ cm⁻⁵ K⁻¹)';
[[tMin,'#d42020'],[tMed,'#2080d0'],[tMax,'#d42020']].forEach(([T,c])=>{
  const l=setA(el('line', fd), {x1:tx_(T),x2:tx_(T),y1:dTop,y2:dBot,stroke:c,'stroke-width':1.5,'stroke-dasharray':'6 4'});
  
});
for(let i=0;i<demT.length;i++){
  const x=tx_(demT[i]);
  const e=setA(el('line', fd), {x1:x,x2:x,y1:dy(demVal[i]+demErr[i]),y2:dy(Math.max(demVal[i]-demErr[i],dDom[0])),stroke:'#777','stroke-width':0.9});
  
  [demVal[i]+demErr[i],demVal[i]-demErr[i]].forEach(v=>setA(el('line', fd), {x1:x-4,x2:x+4,y1:dy(v),y2:dy(v),stroke:'#777','stroke-width':0.9}));
  const c=setA(el('circle', fd), {cx:x,cy:dy(demVal[i]),r:2.3,fill:'#000'});
  
  
}
const tm = setA(el('text', fd), {x:tx_(2.0),y:dy(3.5),'font-size':10,fill:'#222'}); tm.textContent='T';
const tms = setA(el('text', fd), {x:tx_(2.0)+6,y:dy(3.5)+3,'font-size':6,fill:'#222'}); tms.textContent='median';
const tmv = setA(el('text', fd), {x:tx_(2.0)+28,y:dy(3.5),'font-size':10,fill:'#222'}); tmv.textContent='= 1.2 MK';

axesBox(cTop,cBot,'cdf-axes');
[0.2,0.4,0.6,0.8].forEach(v=>{ setA(el('line', fd), {x1:PX0,x2:PX0+5,y1:cy(v),y2:cy(v),stroke:'#555','stroke-width':0.6});
  const t=setA(el('text', fd), {x:PX0-6,y:cy(v)+4,'font-size':10,'text-anchor':'end',fill:'#222'}); t.textContent=v.toFixed(1); });
const cyl = setA(el('text', fd), {x:0,y:0,'font-size':10,'text-anchor':'middle',fill:'#222',transform:`translate(${PX0-44},${(cTop+cBot)/2}) rotate(-90)`}); cyl.textContent='CDF';
[[cdfLevels[0],tMin,'#d42020'],[cdfLevels[1],tMed,'#2080d0'],[cdfLevels[2],tMax,'#d42020']].forEach(([v,T,c])=>{
  const h=setA(el('polyline', fd), {points:`${PX0},${cy(v)} ${tx_(T)},${cy(v)} ${tx_(T)},${cBot}`,fill:'none',stroke:c,'stroke-width':1.2});
  
});
const cl = setA(el('polyline', fd), {fill:'none',stroke:'#111','stroke-width':0.8,points:demT.map((T,i)=>`${tx_(T)},${cy(cdfVal[i])}`).join(' ')});

for(let i=0;i<demT.length;i++){
  const c=setA(el('circle', fd), {cx:tx_(demT[i]),cy:cy(cdfVal[i]),r:2.3,fill:'#000'});
  
  
}
</script>
</body></html>
